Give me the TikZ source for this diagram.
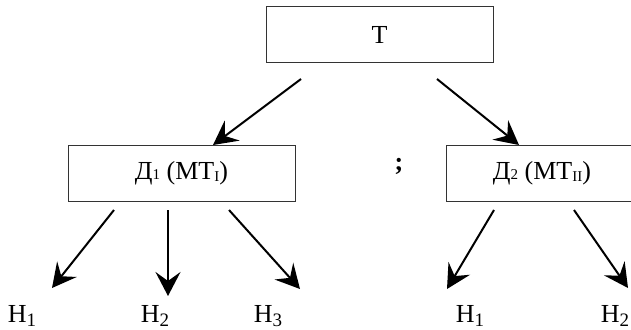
\documentclass[tikz,border=0pt]{standalone}
\usepackage{fontspec}
\setmainfont{Liberation Serif}
\usetikzlibrary{arrows.meta}
\newcommand\boxsub[1]{{\fontsize{15}{15}\selectfont #1}}
\newcommand\boxsubl[1]{\raisebox{-0.07em}{\fontsize{15}{15}\selectfont #1}}
\newcommand\hsub[1]{\raisebox{-0.16em}{\fontsize{19}{19}\selectfont #1}}
\begin{document}
\begin{tikzpicture}[x=1pt,y=-1pt,
  box/.style={draw=black!80, line width=0.9pt, minimum height=56pt, inner sep=0pt, font=\fontsize{26}{30}\selectfont},
  lbl/.style={anchor=base, inner sep=0pt, font=\fontsize{26}{30}\selectfont},
  arr/.style={line width=2pt, -{Stealth[length=24pt,width=25pt,inset=9pt]}}]
\useasboundingbox (0,0) rectangle (631,329);
\node[box, minimum width=227pt] (T) at (379.5,34.5) {T};
\node[box, minimum width=227pt] (D1) at (181.5,173.5) {Д\boxsub{1} (MT\boxsubl{I})};
\node[box, minimum width=192pt] (D2) at (542,173.5) {Д\boxsub{2} (MT\boxsubl{II})};
\node[lbl, font=\fontsize{26}{30}\selectfont\bfseries] (semi) at (399,170) {;};
\node[lbl] (h1) at (22,322) {H\hsub{1}};
\node[lbl] (h2) at (155,322) {H\hsub{2}};
\node[lbl] (h3) at (268,322) {H\hsub{3}};
\node[lbl] (k1) at (470,322) {H\hsub{1}};
\node[lbl] (k2) at (615,322) {H\hsub{2}};
% arrow coordinates
\coordinate (ta) at (301,79);
\coordinate (tb) at (437,79);
\coordinate (d1top) at (213,145);
\coordinate (d2top) at (519,145);
\coordinate (a1) at (114,210);
\coordinate (a2) at (168,210);
\coordinate (a3) at (229,210);
\coordinate (b1) at (494,210);
\coordinate (b2) at (574,210);
\coordinate (e1) at (52,288);
\coordinate (e2) at (168,296);
\coordinate (e3) at (300,289);
\coordinate (f1) at (447,289);
\coordinate (f2) at (628,288);
\draw[arr] (ta) -- (d1top);
\draw[arr] (tb) -- (d2top);
\draw[arr] (a1) -- (e1);
\draw[arr] (a2) -- (e2);
\draw[arr] (a3) -- (e3);
\draw[arr] (b1) -- (f1);
\draw[arr] (b2) -- (f2);
\end{tikzpicture}
\end{document}
